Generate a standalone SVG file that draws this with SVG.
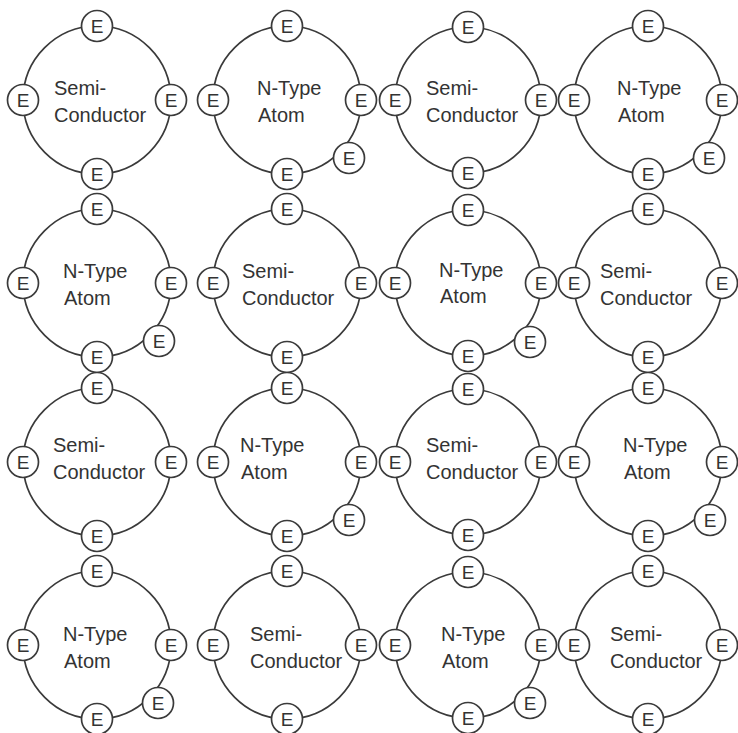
<svg xmlns="http://www.w3.org/2000/svg" width="738" height="733" viewBox="0 0 738 733">
<style>
.ring{fill:none;stroke:#3a3a3a;stroke-width:1.7}
.ec{fill:#fff;stroke:#3a3a3a;stroke-width:1.7}
.et{font-family:"Liberation Sans",Arial,sans-serif;font-size:19px;fill:#333;text-anchor:middle}
.lb{font-family:"Liberation Sans",Arial,sans-serif;font-size:20px;fill:#333}
</style>
<rect width="738" height="733" fill="#fff"/>
<g id="connectors"></g>
<g id="atom-r0c0"><circle class="ring" cx="97" cy="100" r="74"/>
<circle class="ec" cx="97" cy="26" r="15.5"/><text class="et" x="97" y="33">E</text>
<circle class="ec" cx="23" cy="100" r="15.5"/><text class="et" x="23" y="107">E</text>
<circle class="ec" cx="171" cy="100" r="15.5"/><text class="et" x="171" y="107">E</text>
<circle class="ec" cx="97" cy="174" r="15.5"/><text class="et" x="97" y="181">E</text>
<text class="lb" x="54" y="95">Semi-</text><text class="lb" x="54" y="122">Conductor</text></g>
<g id="atom-r0c1"><circle class="ring" cx="287" cy="100" r="74"/>
<circle class="ec" cx="287" cy="26" r="15.5"/><text class="et" x="287" y="33">E</text>
<circle class="ec" cx="213" cy="100" r="15.5"/><text class="et" x="213" y="107">E</text>
<circle class="ec" cx="361" cy="100" r="15.5"/><text class="et" x="361" y="107">E</text>
<circle class="ec" cx="287" cy="174" r="15.5"/><text class="et" x="287" y="181">E</text>
<circle class="ec" cx="349" cy="158" r="15.5"/><text class="et" x="349" y="165">E</text>
<text class="lb" x="257" y="95">N-Type</text><text class="lb" x="258" y="122">Atom</text></g>
<g id="atom-r0c2"><circle class="ring" cx="468" cy="100" r="73"/>
<circle class="ec" cx="468" cy="27" r="15.5"/><text class="et" x="468" y="34">E</text>
<circle class="ec" cx="395" cy="100" r="15.5"/><text class="et" x="395" y="107">E</text>
<circle class="ec" cx="541" cy="100" r="15.5"/><text class="et" x="541" y="107">E</text>
<circle class="ec" cx="468" cy="173" r="15.5"/><text class="et" x="468" y="180">E</text>
<text class="lb" x="426" y="95">Semi-</text><text class="lb" x="426" y="122">Conductor</text></g>
<g id="atom-r0c3"><circle class="ring" cx="648" cy="100" r="74"/>
<circle class="ec" cx="648" cy="26" r="15.5"/><text class="et" x="648" y="33">E</text>
<circle class="ec" cx="574" cy="100" r="15.5"/><text class="et" x="574" y="107">E</text>
<circle class="ec" cx="722" cy="100" r="15.5"/><text class="et" x="722" y="107">E</text>
<circle class="ec" cx="648" cy="174" r="15.5"/><text class="et" x="648" y="181">E</text>
<circle class="ec" cx="709" cy="158" r="15.5"/><text class="et" x="709" y="165">E</text>
<text class="lb" x="617" y="95">N-Type</text><text class="lb" x="618" y="122">Atom</text></g>
<g id="atom-r1c0"><circle class="ring" cx="97" cy="283" r="74"/>
<circle class="ec" cx="97" cy="209" r="15.5"/><text class="et" x="97" y="216">E</text>
<circle class="ec" cx="23" cy="283" r="15.5"/><text class="et" x="23" y="290">E</text>
<circle class="ec" cx="171" cy="283" r="15.5"/><text class="et" x="171" y="290">E</text>
<circle class="ec" cx="97" cy="357" r="15.5"/><text class="et" x="97" y="364">E</text>
<circle class="ec" cx="159" cy="341" r="15.5"/><text class="et" x="159" y="348">E</text>
<text class="lb" x="63" y="278">N-Type</text><text class="lb" x="64" y="305">Atom</text></g>
<g id="atom-r1c1"><circle class="ring" cx="287" cy="283" r="74"/>
<circle class="ec" cx="287" cy="209" r="15.5"/><text class="et" x="287" y="216">E</text>
<circle class="ec" cx="213" cy="283" r="15.5"/><text class="et" x="213" y="290">E</text>
<circle class="ec" cx="361" cy="283" r="15.5"/><text class="et" x="361" y="290">E</text>
<circle class="ec" cx="287" cy="357" r="15.5"/><text class="et" x="287" y="364">E</text>
<text class="lb" x="242" y="278">Semi-</text><text class="lb" x="242" y="305">Conductor</text></g>
<g id="atom-r1c2"><circle class="ring" cx="468" cy="283" r="73"/>
<circle class="ec" cx="468" cy="210" r="15.5"/><text class="et" x="468" y="217">E</text>
<circle class="ec" cx="395" cy="283" r="15.5"/><text class="et" x="395" y="290">E</text>
<circle class="ec" cx="541" cy="283" r="15.5"/><text class="et" x="541" y="290">E</text>
<circle class="ec" cx="468" cy="356" r="15.5"/><text class="et" x="468" y="363">E</text>
<circle class="ec" cx="530" cy="342" r="15.5"/><text class="et" x="530" y="349">E</text>
<text class="lb" x="439" y="277">N-Type</text><text class="lb" x="440" y="303">Atom</text></g>
<g id="atom-r1c3"><circle class="ring" cx="648" cy="283" r="74"/>
<circle class="ec" cx="648" cy="209" r="15.5"/><text class="et" x="648" y="216">E</text>
<circle class="ec" cx="574" cy="283" r="15.5"/><text class="et" x="574" y="290">E</text>
<circle class="ec" cx="722" cy="283" r="15.5"/><text class="et" x="722" y="290">E</text>
<circle class="ec" cx="648" cy="357" r="15.5"/><text class="et" x="648" y="364">E</text>
<text class="lb" x="600" y="278">Semi-</text><text class="lb" x="600" y="305">Conductor</text></g>
<g id="atom-r2c0"><circle class="ring" cx="97" cy="462" r="74"/>
<circle class="ec" cx="97" cy="388" r="15.5"/><text class="et" x="97" y="395">E</text>
<circle class="ec" cx="23" cy="462" r="15.5"/><text class="et" x="23" y="469">E</text>
<circle class="ec" cx="171" cy="462" r="15.5"/><text class="et" x="171" y="469">E</text>
<circle class="ec" cx="97" cy="536" r="15.5"/><text class="et" x="97" y="543">E</text>
<text class="lb" x="53" y="452">Semi-</text><text class="lb" x="53" y="479">Conductor</text></g>
<g id="atom-r2c1"><circle class="ring" cx="287" cy="462" r="74"/>
<circle class="ec" cx="287" cy="388" r="15.5"/><text class="et" x="287" y="395">E</text>
<circle class="ec" cx="213" cy="462" r="15.5"/><text class="et" x="213" y="469">E</text>
<circle class="ec" cx="361" cy="462" r="15.5"/><text class="et" x="361" y="469">E</text>
<circle class="ec" cx="287" cy="536" r="15.5"/><text class="et" x="287" y="543">E</text>
<circle class="ec" cx="349" cy="520" r="15.5"/><text class="et" x="349" y="527">E</text>
<text class="lb" x="240" y="452">N-Type</text><text class="lb" x="241" y="479">Atom</text></g>
<g id="atom-r2c2"><circle class="ring" cx="468" cy="462" r="73"/>
<circle class="ec" cx="468" cy="389" r="15.5"/><text class="et" x="468" y="396">E</text>
<circle class="ec" cx="395" cy="462" r="15.5"/><text class="et" x="395" y="469">E</text>
<circle class="ec" cx="541" cy="462" r="15.5"/><text class="et" x="541" y="469">E</text>
<circle class="ec" cx="468" cy="535" r="15.5"/><text class="et" x="468" y="542">E</text>
<text class="lb" x="426" y="452">Semi-</text><text class="lb" x="426" y="479">Conductor</text></g>
<g id="atom-r2c3"><circle class="ring" cx="648" cy="462" r="74"/>
<circle class="ec" cx="648" cy="388" r="15.5"/><text class="et" x="648" y="395">E</text>
<circle class="ec" cx="574" cy="462" r="15.5"/><text class="et" x="574" y="469">E</text>
<circle class="ec" cx="722" cy="462" r="15.5"/><text class="et" x="722" y="469">E</text>
<circle class="ec" cx="648" cy="536" r="15.5"/><text class="et" x="648" y="543">E</text>
<circle class="ec" cx="710" cy="520" r="15.5"/><text class="et" x="710" y="527">E</text>
<text class="lb" x="623" y="452">N-Type</text><text class="lb" x="624" y="479">Atom</text></g>
<g id="atom-r3c0"><circle class="ring" cx="97" cy="645" r="74"/>
<circle class="ec" cx="97" cy="571" r="15.5"/><text class="et" x="97" y="578">E</text>
<circle class="ec" cx="23" cy="645" r="15.5"/><text class="et" x="23" y="652">E</text>
<circle class="ec" cx="171" cy="645" r="15.5"/><text class="et" x="171" y="652">E</text>
<circle class="ec" cx="97" cy="719" r="15.5"/><text class="et" x="97" y="726">E</text>
<circle class="ec" cx="158" cy="703" r="15.5"/><text class="et" x="158" y="710">E</text>
<text class="lb" x="63" y="641">N-Type</text><text class="lb" x="64" y="668">Atom</text></g>
<g id="atom-r3c1"><circle class="ring" cx="287" cy="645" r="74"/>
<circle class="ec" cx="287" cy="571" r="15.5"/><text class="et" x="287" y="578">E</text>
<circle class="ec" cx="213" cy="645" r="15.5"/><text class="et" x="213" y="652">E</text>
<circle class="ec" cx="361" cy="645" r="15.5"/><text class="et" x="361" y="652">E</text>
<circle class="ec" cx="287" cy="719" r="15.5"/><text class="et" x="287" y="726">E</text>
<text class="lb" x="250" y="641">Semi-</text><text class="lb" x="250" y="668">Conductor</text></g>
<g id="atom-r3c2"><circle class="ring" cx="468" cy="645" r="73"/>
<circle class="ec" cx="468" cy="572" r="15.5"/><text class="et" x="468" y="579">E</text>
<circle class="ec" cx="395" cy="645" r="15.5"/><text class="et" x="395" y="652">E</text>
<circle class="ec" cx="541" cy="645" r="15.5"/><text class="et" x="541" y="652">E</text>
<circle class="ec" cx="468" cy="718" r="15.5"/><text class="et" x="468" y="725">E</text>
<circle class="ec" cx="530" cy="703" r="15.5"/><text class="et" x="530" y="710">E</text>
<text class="lb" x="441" y="641">N-Type</text><text class="lb" x="442" y="668">Atom</text></g>
<g id="atom-r3c3"><circle class="ring" cx="648" cy="645" r="74"/>
<circle class="ec" cx="648" cy="571" r="15.5"/><text class="et" x="648" y="578">E</text>
<circle class="ec" cx="574" cy="645" r="15.5"/><text class="et" x="574" y="652">E</text>
<circle class="ec" cx="722" cy="645" r="15.5"/><text class="et" x="722" y="652">E</text>
<circle class="ec" cx="648" cy="719" r="15.5"/><text class="et" x="648" y="726">E</text>
<text class="lb" x="610" y="641">Semi-</text><text class="lb" x="610" y="668">Conductor</text></g>
</svg>
